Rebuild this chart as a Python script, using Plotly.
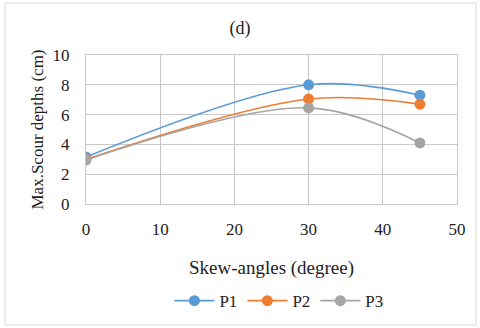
import plotly.graph_objects as go

# data
angles = [0, 30, 45]
p1 = [3.15, 8.0, 7.3]
p2 = [3.0, 7.05, 6.7]
p3 = [2.95, 6.45, 4.1]

series = [("P1", p1, "#5B9BD5"), ("P2", p2, "#ED7D31"), ("P3", p3, "#A5A5A5")]

fig = go.Figure()
for name, vals, col in series:
    fig.add_trace(go.Scatter(
        x=angles, y=vals, name=name, mode="lines+markers",
        line=dict(color=col, width=1.6, shape="spline", smoothing=1.0),
        marker=dict(color=col, size=11),
    ))

font = "Times New Roman, Liberation Serif, serif"
grid = "#C8C8C8"

fig.update_layout(
    width=480, height=328,
    margin=dict(l=86, r=23, t=55, b=124, autoexpand=False),
    paper_bgcolor="white", plot_bgcolor="white",
    font=dict(family=font, size=17, color="#222"),
    title=dict(text="(d)", x=0.5, xanchor="center", y=0.915, yanchor="middle",
               font=dict(family=font, size=18, color="#222")),
    xaxis=dict(range=[0, 50], dtick=10, showgrid=True, gridcolor=grid, gridwidth=1,
               showline=True, linecolor=grid, mirror=True, zeroline=False,
               ticks="", ticklabelstandoff=10, tickfont=dict(family=font, size=17),
               automargin=False,
               title=dict(text="Skew-angles (degree)", font=dict(family=font, size=19),
                          standoff=22)),
    yaxis=dict(range=[0, 10], dtick=2, showgrid=True, gridcolor=grid, gridwidth=1,
               showline=True, linecolor=grid, mirror=True, zeroline=False,
               ticks="", ticklabelstandoff=12, tickfont=dict(family=font, size=17),
               automargin=False,
               title=dict(text="Max.Scour depths (cm)", font=dict(family=font, size=17),
                          standoff=4)),
    legend=dict(orientation="h", x=0.52, xanchor="center", y=0.082, yref="container",
                yanchor="middle", font=dict(family=font, size=17), itemwidth=40,
                traceorder="normal"),
    showlegend=True,
)

# chart border
fig.add_shape(type="rect", xref="paper", yref="paper",
              x0=-0.218, x1=1.051, y0=-0.812, y1=1.349,
              line=dict(color="#D9D9D9", width=1), layer="below")

fig.write_html("out.html", config={"displayModeBar": False},
               post_script="document.body.style.margin='0';")
